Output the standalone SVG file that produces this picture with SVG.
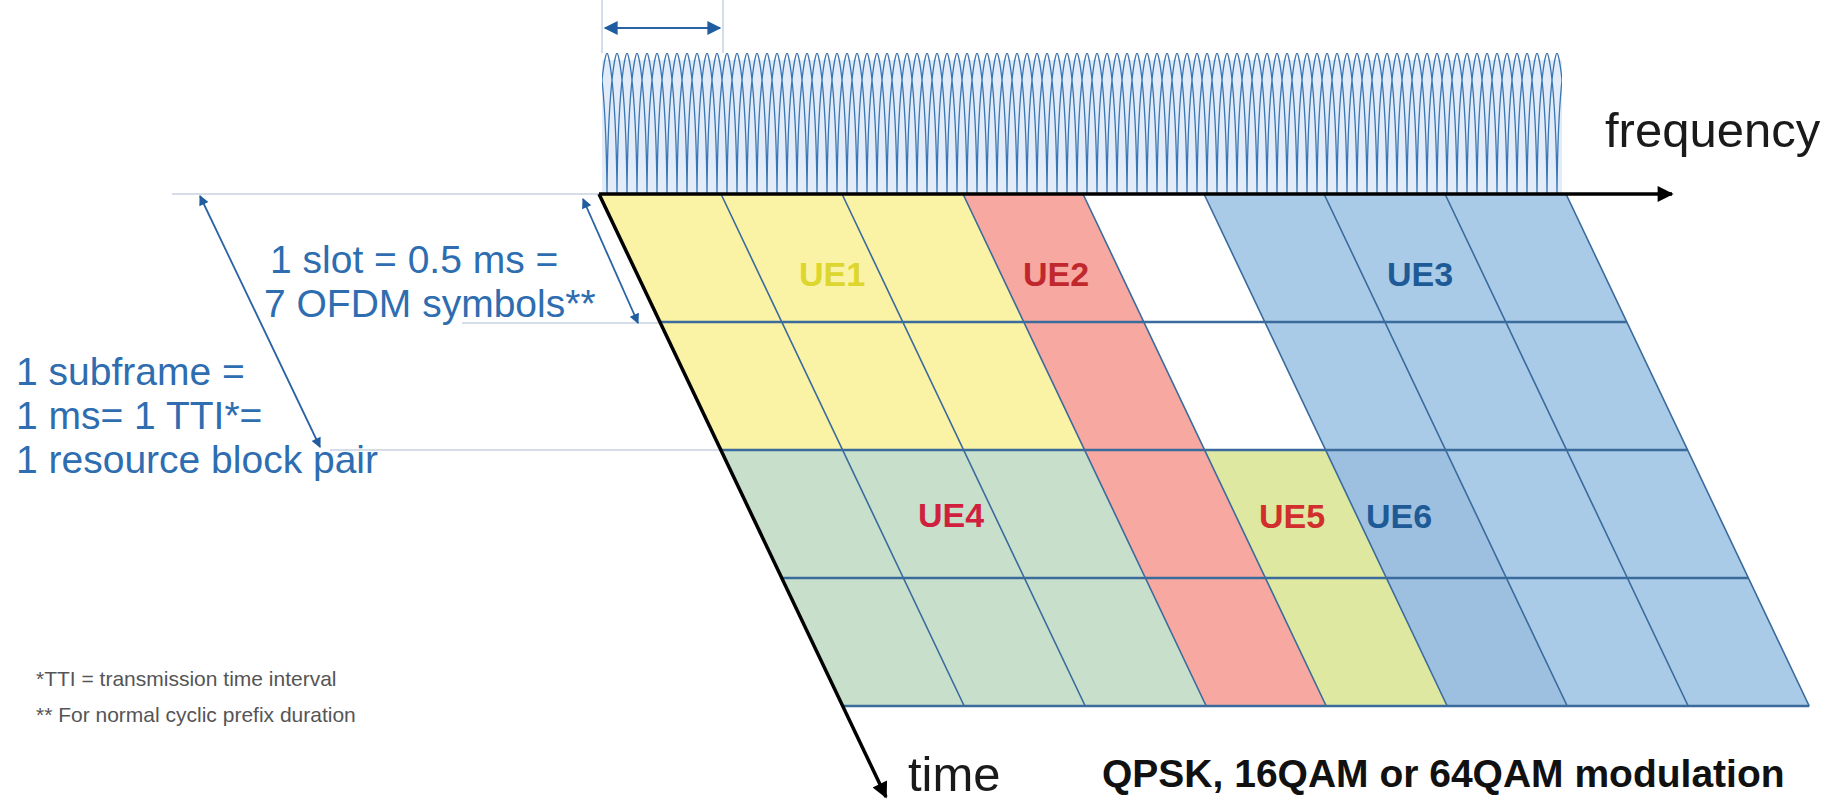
<svg xmlns="http://www.w3.org/2000/svg" width="1835" height="801" viewBox="0 0 1835 801">
<defs>
<style>
text{font-family:"Liberation Sans",Arial,Helvetica,sans-serif;}
.note{font-size:39px;fill:#2E6DB0;}
.ue{font-size:34px;font-weight:bold;text-anchor:middle;}
.axis{font-size:49px;fill:#1a1a1a;}
.foot{font-size:21px;fill:#555;}
.mod{font-size:39px;font-weight:bold;fill:#111;}
.grid{stroke:#3A6B9C;stroke-width:1.6;fill:none;}
.hgrid{stroke:#3A6B9C;stroke-width:2.4;fill:none;}
.ext{stroke:#D5DEE8;stroke-width:2;fill:none;}
.dim{stroke:#2A62A6;stroke-width:1.8;fill:none;}
.ax{stroke:#000;stroke-width:3.5;fill:none;}
</style>
<marker id="ah" viewBox="0 0 10 10" refX="9" refY="5" markerWidth="22" markerHeight="16" markerUnits="userSpaceOnUse" orient="auto"><path d="M0,0 L10,5 L0,10 z" fill="#000"/></marker>
<marker id="dh" viewBox="0 0 10 10" refX="9" refY="5" markerWidth="14" markerHeight="10" markerUnits="userSpaceOnUse" orient="auto-start-reverse"><path d="M0,0 L10,5 L0,10 z" fill="#1F5CA0"/></marker>
<marker id="dh2" viewBox="0 0 10 10" refX="9" refY="5" markerWidth="18" markerHeight="14" markerUnits="userSpaceOnUse" orient="auto-start-reverse"><path d="M0,0 L10,5 L0,10 z" fill="#1F5CA0"/></marker>
<pattern id="sc" x="602" y="53" width="10" height="141" patternUnits="userSpaceOnUse">
<path d="M-15,141 C-14,30 -6.5,0 -5,0 C-3.5,0 4,30 5,141 M-5,141 C-4,30 3.5,0 5,0 C6.5,0 14,30 15,141 M5,141 C6,30 13.5,0 15,0 C16.5,0 24,30 25,141" fill="none" stroke="#3A76B4" stroke-width="1.3"/>
</pattern>
</defs>
<rect width="1835" height="801" fill="#fff"/>

<g id="spectrum">
<rect x="602" y="60" width="960" height="134" fill="#E2ECF8"/>
<rect x="602" y="53" width="960" height="141" fill="url(#sc)"/>
</g>

<g id="ue1">
<polygon points="599,194 963,194 1084.6,450 720.6,450" fill="#FAF3A6"/>
<text class="ue" x="832" y="286" fill="#DCD62E">UE1</text>
</g>
<g id="ue2">
<polygon points="963,194 1083,194 1326.2,706 1206.2,706" fill="#F7A8A0"/>
<text class="ue" x="1056" y="286" fill="#C0282E">UE2</text>
</g>
<g id="ue3">
<polygon points="1204,194 1566,194 1687.6,450 1325.6,450" fill="#A9CBE7"/>
<text class="ue" x="1420" y="286" fill="#1E5A96">UE3</text>
</g>
<g id="ue4">
<polygon points="720.6,450 1084.6,450 1206.2,706 842.2,706" fill="#C8E0CB"/>
<text class="ue" x="951" y="527" fill="#D11F3F">UE4</text>
</g>
<g id="ue5">
<polygon points="1204.6,450 1325.6,450 1447.2,706 1326.2,706" fill="#DEE8A0"/>
<text class="ue" x="1292" y="528" fill="#D12E2E">UE5</text>
</g>
<g id="ue6">
<polygon points="1325.6,450 1445.6,450 1567.2,706 1447.2,706" fill="#9EC0E0"/>
<text class="ue" x="1399" y="528" fill="#1E5A96">UE6</text>
</g>
<g id="rb-rest">
<polygon points="1445.6,450 1687.6,450 1809.2,706 1567.2,706" fill="#A9CBE7"/>
</g>

<g id="grid-lines">
<path class="grid" d="M721,194 L964.2,706 M842,194 L1085.2,706 M963,194 L1206.2,706 M1083,194 L1326.2,706 M1204,194 L1447.2,706 M1324,194 L1567.2,706 M1445,194 L1688.2,706 M1566,194 L1809.2,706"/>
<path class="hgrid" d="M659.8,322 L1626.8,322 M720.6,450 L1687.6,450 M781.4,578 L1748.4,578 M842.2,706 L1809.2,706"/>
</g>

<g id="connectors">
<path class="ext" d="M602,0 L602,53 M723,0 L723,53 M172,194 L599,194 M462,323 L659,323 M330,450 L720,450"/>
<line class="ax" x1="599" y1="194" x2="1672" y2="194" marker-end="url(#ah)"/>
<line class="ax" x1="599" y1="194" x2="886" y2="797" marker-end="url(#ah)"/>
<line class="dim" x1="605" y1="28" x2="720" y2="28" stroke-width="3" marker-start="url(#dh2)" marker-end="url(#dh2)"/>
<line class="dim" x1="583" y1="199" x2="638" y2="323" marker-start="url(#dh)" marker-end="url(#dh)"/>
<line class="dim" x1="200" y1="196" x2="320" y2="447" marker-start="url(#dh)" marker-end="url(#dh)"/>
</g>

<g id="labels">
<text class="axis" x="1605" y="147">frequency</text>
<text class="axis" x="908" y="791">time</text>
<text class="note" x="270" y="273">1 slot = 0.5 ms =</text>
<text class="note" x="264" y="317">7 OFDM symbols**</text>
<text class="note" x="16" y="385">1 subframe =</text>
<text class="note" x="16" y="429">1 ms= 1 TTI*=</text>
<text class="note" x="16" y="473">1 resource block pair</text>
<text class="foot" x="36" y="686">*TTI = transmission time interval</text>
<text class="foot" x="36" y="722">** For normal cyclic prefix duration</text>
<text class="mod" x="1102" y="787">QPSK, 16QAM or 64QAM modulation</text>
</g>
</svg>
